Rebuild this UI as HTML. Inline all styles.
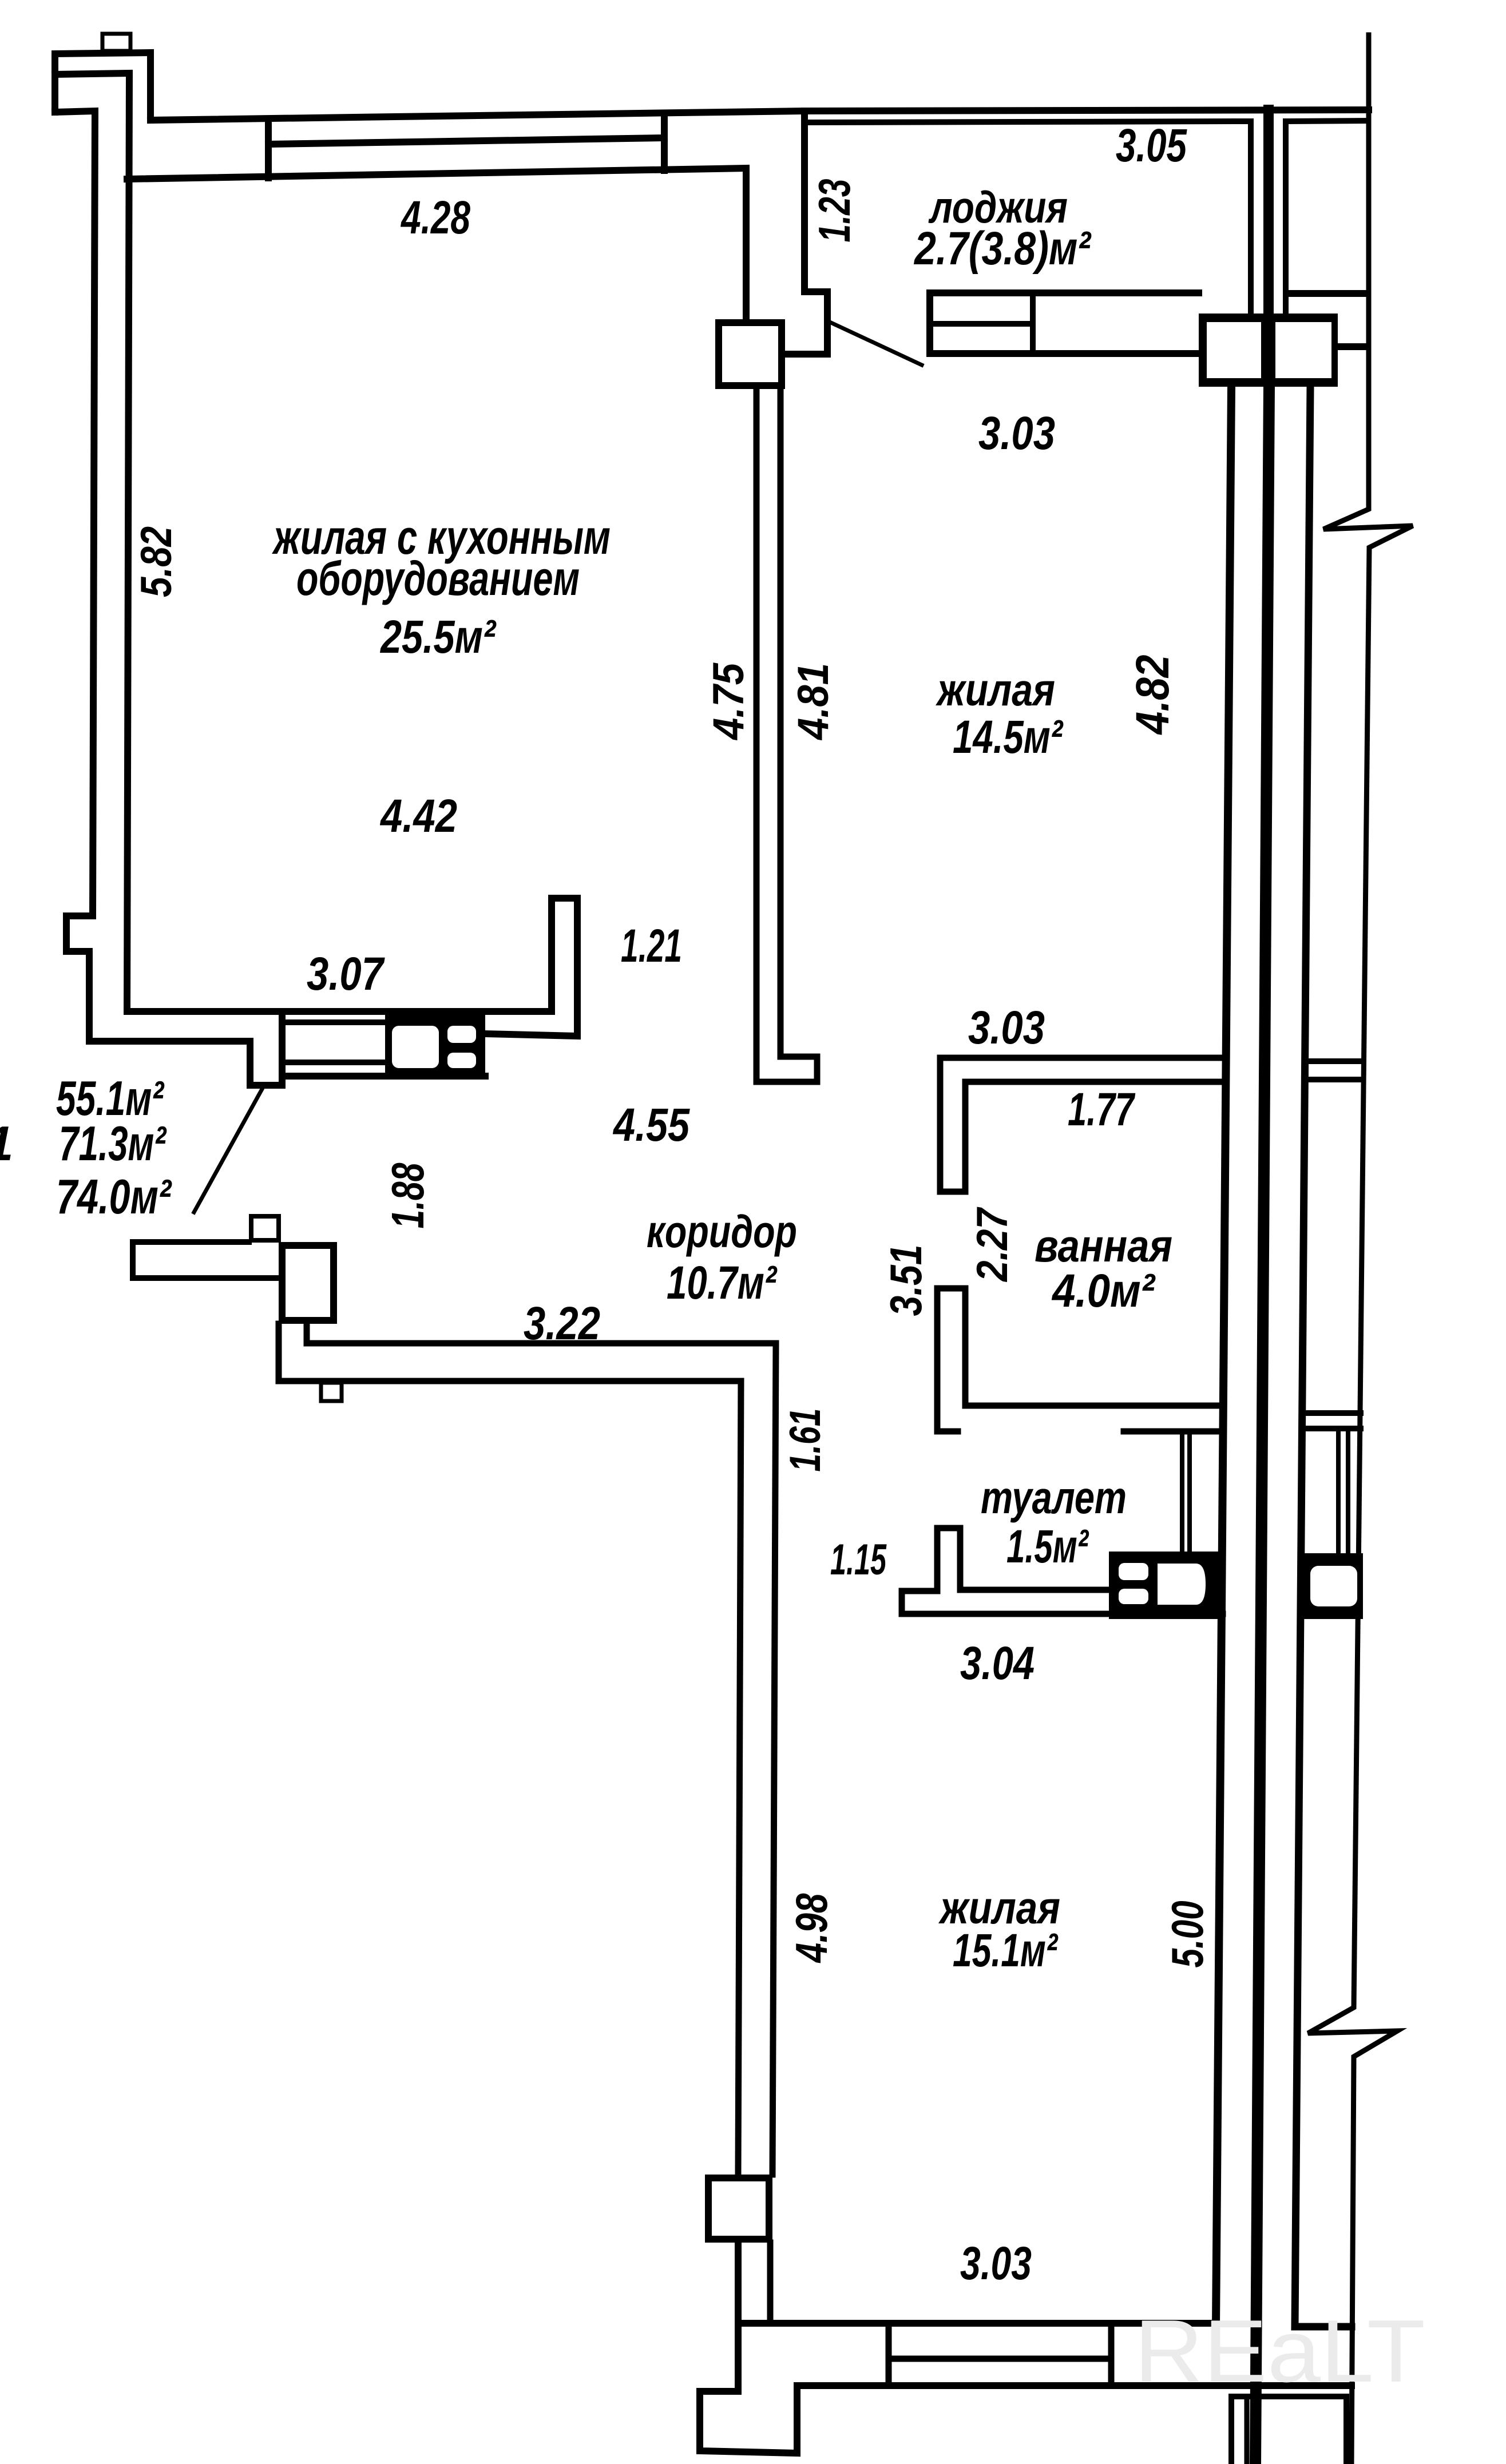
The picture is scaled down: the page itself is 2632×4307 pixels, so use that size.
<!DOCTYPE html>
<html><head><meta charset="utf-8"><title>План квартиры</title>
<style>
html,body{margin:0;padding:0;background:#fff;}
svg{display:block}
</style></head><body>
<svg xmlns="http://www.w3.org/2000/svg" width="2632" height="4307" viewBox="0 0 2632 4307">
<rect x="0" y="0" width="2632" height="4307" fill="#fff"/>
<g fill="none" stroke="#000" stroke-width="12" stroke-linejoin="miter" stroke-linecap="square">
  <!-- chimney -->
  <rect x="179" y="59" width="49" height="30" stroke-width="7"/>
  <!-- top-left block -->
  <polyline points="96,196 96,94 263,92 263,210"/>
  <polyline points="96,196 166,194 162,1601 116,1601 116,1663 156,1663 156,1820 437,1820 437,1897 493,1897 493,1772"/>
  <polyline points="96,130 226,128 222,1768 964,1768 964,1570 1009,1570 1009,1811 848,1807"/>
  <!-- top wall -->
  <polyline points="263,210 1406,194 2392,192"/>
  <polyline points="222,313 1304,294 1304,558"/>
  <line x1="469" y1="208" x2="469" y2="311"/>
  <line x1="1161" y1="198" x2="1161" y2="298"/>
  <line x1="469" y1="252" x2="1161" y2="241" stroke-width="12"/>
  <!-- loggia top lower line -->
  <line x1="1406" y1="214" x2="2181" y2="212" stroke-width="10"/>
  <line x1="2252" y1="212" x2="2390" y2="211" stroke-width="10"/>
  <!-- jamb near loggia -->
  <polyline points="1406,194 1406,510 1446,510 1446,619 1371,619"/>
  <!-- pillar 1 -->
  <rect x="1256" y="564" width="110" height="110"/>
  <!-- kitchen/bedroom partition -->
  <polyline points="1322,680 1322,1891 1428,1891 1428,1847 1364,1847 1364,680" stroke-width="11"/>
  <!-- door swing lines -->
  <line x1="1446" y1="561" x2="1611" y2="638" stroke-width="7"/>
  <line x1="460" y1="1900" x2="339" y2="2119" stroke-width="7"/>
  <!-- loggia bottom wall -->
  <polyline points="2095,512 1625,512 1625,618 2095,618"/>
  <line x1="1625" y1="566" x2="1805" y2="566" stroke-width="10"/>
  <line x1="1805" y1="512" x2="1805" y2="618" stroke-width="10"/>
  <!-- column above pillar 2 -->
  <line x1="2186" y1="212" x2="2186" y2="548" stroke-width="10"/>
  <line x1="2217" y1="192" x2="2217" y2="548" stroke-width="18"/>
  <line x1="2247" y1="212" x2="2247" y2="548" stroke-width="10"/>
  <line x1="2252" y1="513" x2="2390" y2="513"/>
  <line x1="2338" y1="606" x2="2390" y2="606"/>
  <!-- right outer line with breaks -->
  <polyline points="2392,61 2392,890 2313,925 2469,919 2393,957 2366,3509 2286,3554 2442,3550 2366,3595 2362,4307" stroke-width="9"/>
  <!-- right column lines -->
  <line x1="2152" y1="676" x2="2125" y2="4067" stroke-width="14"/>
  <line x1="2218" y1="676" x2="2194" y2="4307" stroke-width="20"/>
  <polyline points="2290,676 2263,4067 2362,4067" stroke-width="13"/>
  <!-- bathroom walls -->
  <polyline points="2140,1849 1643,1849 1643,2083 1687,2083 1687,1891 2140,1891" stroke-width="11"/>
  <line x1="2288" y1="1855" x2="2380" y2="1855" stroke-width="10"/>
  <line x1="2288" y1="1887" x2="2380" y2="1887" stroke-width="10"/>
  <polyline points="1674,2502 1638,2502 1638,2252 1687,2252 1687,2457 2137,2457" stroke-width="11"/>
  <line x1="1964" y1="2502" x2="2137" y2="2502" stroke-width="11"/>
  <line x1="2066" y1="2502" x2="2066" y2="2714" stroke-width="8"/>
  <line x1="2079" y1="2502" x2="2079" y2="2714" stroke-width="8"/>
  <!-- toilet wall -->
  <polyline points="1938,2779 1678,2779 1678,2671 1638,2671 1638,2781 1576,2781 1576,2821 2137,2821" stroke-width="11"/>
  <!-- right shaft -->
  <line x1="2282" y1="2470" x2="2378" y2="2470" stroke-width="10"/>
  <line x1="2282" y1="2497" x2="2378" y2="2497" stroke-width="10"/>
  <line x1="2339" y1="2497" x2="2339" y2="2716" stroke-width="8"/>
  <line x1="2356" y1="2497" x2="2356" y2="2716" stroke-width="8"/>
  <!-- kitchen window -->
  <line x1="493" y1="1787" x2="673" y2="1787" stroke-width="10"/>
  <line x1="493" y1="1857" x2="673" y2="1857" stroke-width="10"/>
  <line x1="493" y1="1881" x2="848" y2="1881" stroke-width="12"/>
  <!-- lower-left stub -->
  <rect x="439" y="2126" width="48" height="42" stroke-width="8"/>
  <polyline points="435,2171 232,2171 232,2234 487,2234" stroke-width="10"/>
  <rect x="493" y="2177" width="90" height="131"/>
  <!-- corridor / bedroom 2 wall -->
  <polyline points="536,2314 536,2348 1356,2348 1350,3801" stroke-width="11"/>
  <polyline points="487,2314 487,2414 1295,2414 1290,3801" stroke-width="11"/>
  <rect x="561" y="2417" width="36" height="32" stroke-width="7"/>
  <rect x="1238" y="3807" width="106" height="107"/>
  <polyline points="1290,3920 1290,4180 1223,4180 1223,4284 1393,4288 1393,4170 2362,4170" stroke-width="12"/>
  <line x1="1346" y1="3920" x2="1346" y2="4061" stroke-width="11"/>
  <line x1="1290" y1="4061" x2="2125" y2="4061" stroke-width="12"/>
  <!-- bottom window -->
  <line x1="1553" y1="4061" x2="1553" y2="4170" stroke-width="11"/>
  <line x1="1942" y1="4061" x2="1942" y2="4170" stroke-width="11"/>
  <line x1="1553" y1="4123" x2="1942" y2="4123" stroke-width="11"/>
  <!-- bottom right box -->
  <rect x="2152" y="4189" width="201" height="130" stroke-width="10"/>
  <line x1="2179" y1="4189" x2="2179" y2="4307" stroke-width="9"/>
</g>
<!-- filled elements -->
<g stroke="none">
  <rect x="2095" y="548" width="243" height="128" fill="#000"/>
  <rect x="2109" y="563" width="95" height="98" fill="#fff"/>
  <rect x="2229" y="563" width="98" height="98" fill="#fff"/>
  <rect x="673" y="1770" width="175" height="116" fill="#000"/>
  <rect x="685" y="1793" width="82" height="74" rx="12" fill="#fff"/>
  <rect x="782" y="1793" width="50" height="30" rx="10" fill="#fff"/>
  <rect x="782" y="1840" width="50" height="27" rx="10" fill="#fff"/>
  <rect x="1938" y="2712" width="194" height="118" fill="#000"/>
  <rect x="1955" y="2732" width="52" height="30" rx="10" fill="#fff"/>
  <rect x="1955" y="2777" width="52" height="27" rx="10" fill="#fff"/>
  <path d="M2023,2733 H2090 Q2107,2733 2107,2769 Q2107,2805 2090,2805 H2023 Z" fill="#fff"/>
  <rect x="2268" y="2715" width="114" height="115" fill="#000"/>
  <rect x="2290" y="2737" width="82" height="71" rx="14" fill="#fff"/>
</g>
<!-- watermark -->
<text x="1982" y="4163" font-family="Liberation Sans, sans-serif" font-size="155" fill="#ebebeb" textLength="509" lengthAdjust="spacingAndGlyphs">REaLT</text>
<!-- labels -->
<g font-family="'Liberation Sans', 'DejaVu Sans', sans-serif" font-style="italic" font-weight="bold" fill="#000" font-size="82">
  <text x="701" y="408" textLength="121" lengthAdjust="spacingAndGlyphs">4.28</text>
  <text x="1950" y="282" textLength="124" lengthAdjust="spacingAndGlyphs">3.05</text>
  <text x="1625" y="389" font-size="78" textLength="241" lengthAdjust="spacingAndGlyphs">лоджия</text>
  <text x="1598" y="462" textLength="308" lengthAdjust="spacingAndGlyphs">2.7(3.8)м²</text>
  <text x="1710" y="785" textLength="134" lengthAdjust="spacingAndGlyphs">3.03</text>
  <text x="478" y="968" font-size="84" textLength="589" lengthAdjust="spacingAndGlyphs">жилая с кухонным</text>
  <text x="518" y="1040" font-size="84" textLength="495" lengthAdjust="spacingAndGlyphs">оборудованием</text>
  <text x="665" y="1141" textLength="201" lengthAdjust="spacingAndGlyphs">25.5м²</text>
  <text x="1638" y="1233" font-size="80" textLength="206" lengthAdjust="spacingAndGlyphs">жилая</text>
  <text x="1665" y="1316" textLength="192" lengthAdjust="spacingAndGlyphs">14.5м²</text>
  <text x="665" y="1454" textLength="134" lengthAdjust="spacingAndGlyphs">4.42</text>
  <text x="536" y="1730" textLength="134" lengthAdjust="spacingAndGlyphs">3.07</text>
  <text x="1085" y="1681" textLength="107" lengthAdjust="spacingAndGlyphs">1.21</text>
  <text x="1072" y="1994" textLength="133" lengthAdjust="spacingAndGlyphs">4.55</text>
  <text x="98" y="1949" font-size="85" textLength="188" lengthAdjust="spacingAndGlyphs">55.1м²</text>
  <text x="103" y="2028" font-size="85" textLength="187" lengthAdjust="spacingAndGlyphs">71.3м²</text>
  <text x="98" y="2121" font-size="85" textLength="201" lengthAdjust="spacingAndGlyphs">74.0м²</text>
  <text x="-24" y="2028" font-size="85">1</text>
  <text x="1130" y="2180" font-size="80" textLength="263" lengthAdjust="spacingAndGlyphs">коридор</text>
  <text x="1165" y="2270" textLength="192" lengthAdjust="spacingAndGlyphs">10.7м²</text>
  <text x="915" y="2341" textLength="134" lengthAdjust="spacingAndGlyphs">3.22</text>
  <text x="1692" y="1824" textLength="134" lengthAdjust="spacingAndGlyphs">3.03</text>
  <text x="1866" y="1967" textLength="116" lengthAdjust="spacingAndGlyphs">1.77</text>
  <text x="1808" y="2205" font-size="80" textLength="241" lengthAdjust="spacingAndGlyphs">ванная</text>
  <text x="1839" y="2284" textLength="179" lengthAdjust="spacingAndGlyphs">4.0м²</text>
  <text x="1714" y="2645" font-size="80" textLength="255" lengthAdjust="spacingAndGlyphs">туалет</text>
  <text x="1759" y="2731" textLength="143" lengthAdjust="spacingAndGlyphs">1.5м²</text>
  <text x="1451" y="2752" font-size="76" textLength="98" lengthAdjust="spacingAndGlyphs">1.15</text>
  <text x="1678" y="2935" textLength="130" lengthAdjust="spacingAndGlyphs">3.04</text>
  <text x="1643" y="3362" font-size="80" textLength="210" lengthAdjust="spacingAndGlyphs">жилая</text>
  <text x="1665" y="3437" textLength="183" lengthAdjust="spacingAndGlyphs">15.1м²</text>
  <text x="1678" y="3984" textLength="125" lengthAdjust="spacingAndGlyphs">3.03</text>
  <!-- rotated dimension labels (read bottom to top) -->
  <text transform="rotate(-90 1457 368)" x="1401.5" y="396" font-size="78" textLength="111" lengthAdjust="spacingAndGlyphs">1.23</text>
  <text transform="rotate(-90 272 982)" x="210" y="1009" font-size="76" textLength="124" lengthAdjust="spacingAndGlyphs">5.82</text>
  <text transform="rotate(-90 1272 1226)" x="1205" y="1253" font-size="76" textLength="134" lengthAdjust="spacingAndGlyphs">4.75</text>
  <text transform="rotate(-90 1420 1226)" x="1353" y="1253" font-size="76" textLength="134" lengthAdjust="spacingAndGlyphs">4.81</text>
  <text transform="rotate(-90 2013 1214)" x="1943.5" y="1243" font-size="82" textLength="139" lengthAdjust="spacingAndGlyphs">4.82</text>
  <text transform="rotate(-90 711 2090)" x="653.5" y="2119" font-size="80" textLength="115" lengthAdjust="spacingAndGlyphs">1.88</text>
  <text transform="rotate(-90 1733 2176)" x="1669" y="2203" font-size="76" textLength="128" lengthAdjust="spacingAndGlyphs">2.27</text>
  <text transform="rotate(-90 1582 2238)" x="1519.5" y="2266" font-size="78" textLength="125" lengthAdjust="spacingAndGlyphs">3.51</text>
  <text transform="rotate(-90 1406 2517)" x="1350.5" y="2544" font-size="76" textLength="111" lengthAdjust="spacingAndGlyphs">1.61</text>
  <text transform="rotate(-90 1417 3370)" x="1356.5" y="3398" font-size="78" textLength="121" lengthAdjust="spacingAndGlyphs">4.98</text>
  <text transform="rotate(-90 2074 3381)" x="2015.5" y="3409" font-size="78" textLength="117" lengthAdjust="spacingAndGlyphs">5.00</text>
</g>
</svg>
</body></html>
